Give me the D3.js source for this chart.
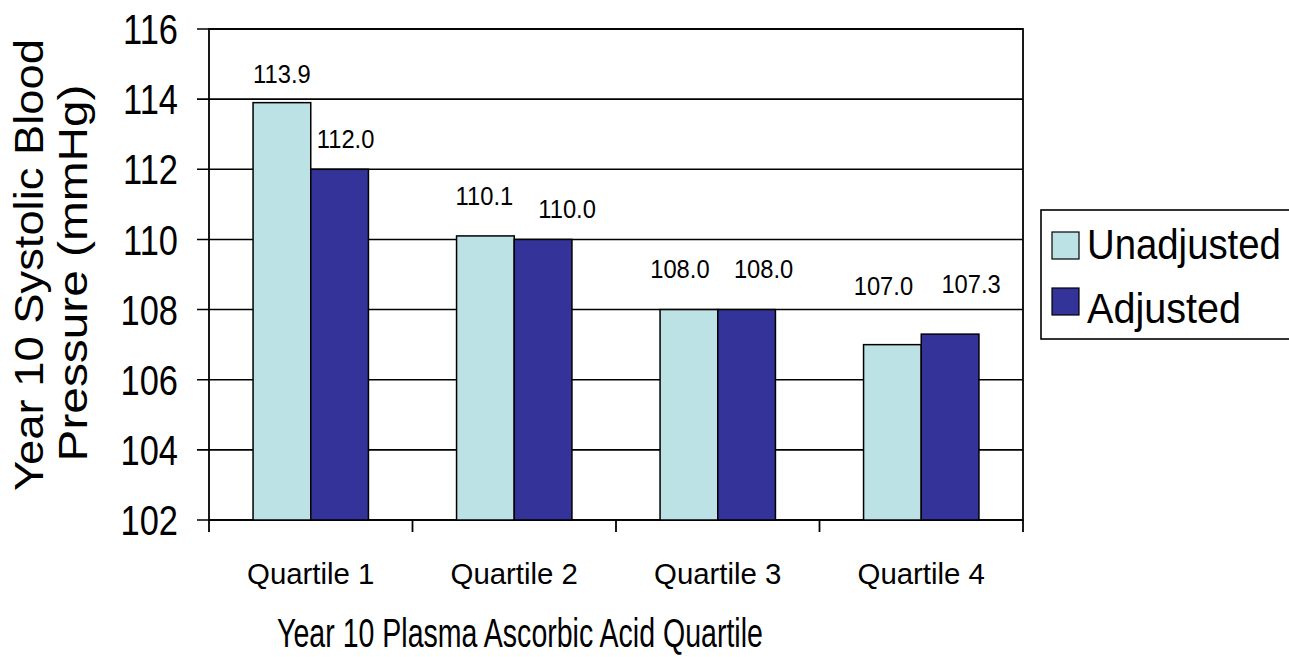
<!DOCTYPE html>
<html><head><meta charset="utf-8">
<script src="https://cdn.jsdelivr.net/npm/d3@7"></script>
<style>
body{margin:0;background:#fff}
svg{display:block}
text{font-family:"Liberation Sans",Arial,Helvetica,sans-serif;fill:#000}
</style>
</head><body><svg id="c" width="1289" height="657"></svg>
<script>
// ---- data ----
const categories = ["Quartile 1","Quartile 2","Quartile 3","Quartile 4"];
const seriesNames = ["Unadjusted","Adjusted"];
const unadjusted = [113.9,110.1,108.0,107.0];
const adjusted = [112.0,110.0,108.0,107.3];
const yTicks = [102,104,106,108,110,112,114,116];
const xTitle = "Year 10 Plasma Ascorbic Acid Quartile";
const yTitleLines = ["Year 10 Systolic Blood","Pressure (mmHg)"];

// ---- layout / style ----
const P = {left:209, right:1023, top:29, bottom:520};
const colors = ["#BDE2E5","#333399"];
// label nudges (px) relative to bar top-centre, as placed in the reference
const labelNudge = [[[0,-20],[6,-21]],[[-1,-31],[24,-21]],[[-9,-32],[17,-32]],[[-9,-50],[21,-41]]];

const svg = d3.select("#c");

// places a text at (x,y) and squeezes it horizontally (along its baseline) by ratio r or to width w
function place(sel, xf, yf, opts){
  sel.each(function(d,i){
    const el = d3.select(this).attr("x",0).attr("y",0);
    const nat = this.getComputedTextLength();
    let r = opts.ratio != null ? opts.ratio : opts.width(d,i)/nat;
    const rot = opts.rotate ? " rotate(-90)" : "";
    el.attr("transform",`translate(${xf(d,i)},${yf(d,i)})${rot} scale(${r},1)`);
  });
}

const x = d3.scaleBand().domain(categories).range([P.left,P.right]).padding(0);
const bw = x.bandwidth();
const xs = d3.scaleBand().domain(seriesNames).range([bw*0.2165, bw*0.7835]).padding(0);
const y = d3.scaleLinear().domain([102,116]).range([P.bottom,P.top]);

// gridlines
svg.append("g").selectAll("line").data(yTicks).join("line")
  .attr("x1",P.left-12).attr("x2",P.right)
  .attr("y1",d=>y(d)).attr("y2",d=>y(d))
  .attr("stroke","#000").attr("stroke-width",1.6);

// plot frame
svg.append("rect").attr("x",P.left).attr("y",P.top)
  .attr("width",P.right-P.left).attr("height",P.bottom-P.top)
  .attr("fill","none").attr("stroke","#000").attr("stroke-width",1.8);

// x ticks at category boundaries
const bounds = categories.map(c=>x(c)).concat([P.right]);
svg.append("g").selectAll("line").data(bounds).join("line")
  .attr("x1",d=>d).attr("x2",d=>d).attr("y1",P.bottom).attr("y2",P.bottom+12)
  .attr("stroke","#000").attr("stroke-width",1.8);

// bars
const rows = categories.map((c,i)=>({c, i, vals:[unadjusted[i],adjusted[i]]}));
const groups = svg.append("g").selectAll("g").data(rows).join("g")
  .attr("transform",d=>`translate(${x(d.c)},0)`);
groups.selectAll("rect").data(d=>d.vals.map((v,k)=>({v,k,s:seriesNames[k]}))).join("rect")
  .attr("x",d=>xs(d.s)).attr("width",xs.bandwidth())
  .attr("y",d=>y(d.v)).attr("height",d=>y(102)-y(d.v))
  .attr("fill",d=>colors[d.k]).attr("stroke","#000").attr("stroke-width",1.5);

// value labels
const lbl = groups.selectAll("text").data(d=>d.vals.map((v,k)=>({v,k,s:seriesNames[k],i:d.i}))).join("text")
  .attr("text-anchor","middle").attr("font-size",25)
  .text(d=>d.v.toFixed(1));
place(lbl, d=>xs(d.s)+xs.bandwidth()/2+labelNudge[d.i][d.k][0], d=>y(d.v)+labelNudge[d.i][d.k][1], {ratio:0.95});

// y tick labels
const yl = svg.append("g").selectAll("text").data(yTicks).join("text")
  .attr("dy","0.36em").attr("text-anchor","end").attr("font-size",42).text(d=>d);
place(yl, ()=>178, d=>y(d), {ratio:0.82});

// category labels
const xl = svg.append("g").selectAll("text").data(categories).join("text")
  .attr("text-anchor","middle").attr("font-size",30).text(d=>d);
place(xl, d=>x(d)+bw/2, ()=>584, {ratio:0.98});

// x title
const xt = svg.append("text").attr("text-anchor","middle").attr("font-size",41).text(xTitle);
place(xt, ()=>520, ()=>647, {width:()=>486});

// y title
const yt = svg.append("g").selectAll("text").data(yTitleLines).join("text")
  .attr("text-anchor","middle").attr("font-size",40).text(d=>d);
place(yt, (d,i)=>[43,87][i], (d,i)=>[265,273][i], {rotate:true, width:(d,i)=>[452,377][i]});

// legend
const lg = svg.append("g");
lg.append("rect").attr("x",1041).attr("y",210).attr("width",300).attr("height",129)
  .attr("fill","#fff").attr("stroke","#000").attr("stroke-width",1.6);
const li = lg.selectAll("g").data(seriesNames).join("g");
li.append("rect").attr("x",1052).attr("y",(d,i)=>[232,288][i]).attr("width",27).attr("height",27)
  .attr("fill",(d,i)=>colors[i]).attr("stroke","#000").attr("stroke-width",1.2);
const lt = li.append("text").attr("font-size",43).text(d=>d);
place(lt, ()=>1087, (d,i)=>[259,323][i], {width:(d,i)=>[194,154][i]});
</script>
</body></html>
